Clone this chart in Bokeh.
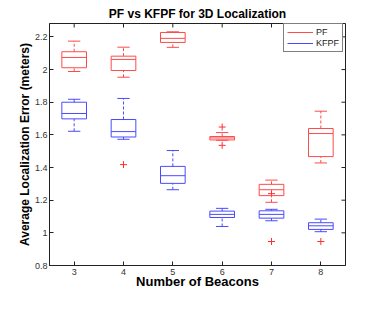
from bokeh.plotting import figure
from bokeh.models import FixedTicker, Range1d, Legend, LegendItem, ColumnDataSource
from bokeh.embed import file_html
from bokeh.resources import INLINE

# ---- data ----
beacons = [3, 4, 5, 6, 7, 8]

pf_lower_whisker = [1.988, 1.953, 2.136, 1.567, 1.187, 1.428]
pf_q1            = [2.011, 1.994, 2.166, 1.569, 1.228, 1.467]
pf_median        = [2.074, 2.062, 2.191, 1.581, 1.264, 1.608]
pf_q3            = [2.109, 2.082, 2.227, 1.590, 1.297, 1.639]
pf_upper_whisker = [2.174, 2.137, 2.231, 1.614, 1.323, 1.745]

kfpf_lower_whisker = [1.622, 1.573, 1.264, 1.039, 1.074, 1.007]
kfpf_q1            = [1.698, 1.587, 1.303, 1.094, 1.090, 1.021]
kfpf_median        = [1.731, 1.620, 1.350, 1.113, 1.113, 1.043]
kfpf_q3            = [1.800, 1.694, 1.407, 1.133, 1.135, 1.062]
kfpf_upper_whisker = [1.818, 1.823, 1.504, 1.150, 1.144, 1.084]

outlier_x = [4, 6, 6, 7, 7, 8]
outlier_y = [1.418, 1.648, 1.536, 1.240, 0.947, 0.947]

y_ticks = [0.8, 1.0, 1.2, 1.4, 1.6, 1.8, 2.0, 2.2]
y_tick_labels = ["0.8", "1", "1.2", "1.4", "1.6", "1.8", "2", "2.2"]

box_width = 0.5
cap_width = 0.25

X_MIN, X_MAX = 2.5, 8.5
Y_MIN, Y_MAX = 0.8, 2.282

PF_COLOR = "#ff4a4a"
KF_COLOR = "#4a4aff"
OUT_COLOR = "#ff3030"
AX_COLOR = "#222222"
FONT = "Liberation Sans"

W, H = 374, 302
BL, BR, BT, BB = 49, 29, 23, 37
FRAME_W = W - BL - BR
FRAME_H = H - BT - BB
TICK_PX = 4

p = figure(width=W, height=H, output_backend="svg", toolbar_location=None,
           x_range=Range1d(X_MIN, X_MAX), y_range=Range1d(Y_MIN, Y_MAX),
           min_border_left=BL, min_border_right=BR, min_border_top=BT,
           min_border_bottom=BB)
p.grid.visible = False
p.background_fill_color = "white"
p.border_fill_color = "white"
p.outline_line_color = AX_COLOR
p.outline_line_width = 1

p.title.text = "PF vs KFPF for 3D Localization"
p.title.align = "center"
p.title.text_font = FONT
p.title.text_font_size = "12px"
p.title.text_font_style = "bold"
p.title.text_color = "black"
p.title.standoff = 6
p.title.offset = 0

# outliers (MATLAB default red '+'), drawn first so boxes sit on top
p.scatter(x=outlier_x, y=outlier_y, marker="cross", size=7,
          line_color=OUT_COLOR, line_width=1)


def draw_boxes(lw, q1, med, q3, uw, color):
    src = ColumnDataSource(dict(
        x=beacons,
        left=[b - box_width / 2 for b in beacons],
        right=[b + box_width / 2 for b in beacons],
        cl=[b - cap_width / 2 for b in beacons],
        cr=[b + cap_width / 2 for b in beacons],
        lw=lw, q1=q1, med=med, q3=q3, uw=uw))
    p.segment(x0="x", y0="q3", x1="x", y1="uw", source=src, line_color=color,
              line_width=1, line_dash="3 2")
    p.segment(x0="x", y0="lw", x1="x", y1="q1", source=src, line_color=color,
              line_width=1, line_dash="3 2")
    p.segment(x0="cl", y0="uw", x1="cr", y1="uw", source=src, line_color=color, line_width=1)
    p.segment(x0="cl", y0="lw", x1="cr", y1="lw", source=src, line_color=color, line_width=1)
    p.quad(left="left", right="right", bottom="q1", top="q3", source=src,
           fill_alpha=0, line_color=color, line_width=1)
    p.segment(x0="left", y0="med", x1="right", y1="med", source=src,
              line_color=color, line_width=1)
    # single-point line: draws nothing visible, only provides the legend glyph
    return p.line(x=[beacons[0]], y=[med[0]], line_color=color, line_width=1)


r_pf = draw_boxes(pf_lower_whisker, pf_q1, pf_median, pf_q3, pf_upper_whisker, PF_COLOR)
r_kf = draw_boxes(kfpf_lower_whisker, kfpf_q1, kfpf_median, kfpf_q3, kfpf_upper_whisker, KF_COLOR)

# mirrored inward ticks on top and right edges (MATLAB "box on" style)
dy = TICK_PX * (Y_MAX - Y_MIN) / FRAME_H
dx = TICK_PX * (X_MAX - X_MIN) / FRAME_W
p.segment(x0=beacons, y0=[Y_MAX] * len(beacons), x1=beacons,
          y1=[Y_MAX - dy] * len(beacons), line_color=AX_COLOR, line_width=1)
p.segment(x0=[X_MAX] * len(y_ticks), y0=y_ticks, x1=[X_MAX - dx] * len(y_ticks),
          y1=y_ticks, line_color=AX_COLOR, line_width=1)

xa = p.xaxis[0]
ya = p.yaxis[0]
xa.ticker = FixedTicker(ticks=beacons)
ya.ticker = FixedTicker(ticks=y_ticks)
ya.major_label_overrides = {t: l for t, l in zip(y_ticks, y_tick_labels)}
for ax in (xa, ya):
    ax.axis_line_color = AX_COLOR
    ax.major_tick_line_color = AX_COLOR
    ax.major_tick_in = TICK_PX
    ax.major_tick_out = 0
    ax.minor_tick_line_color = None
    ax.major_label_text_font = FONT
    ax.major_label_text_font_size = "9px"
    ax.major_label_text_color = "#333333"
xa.major_label_standoff = 3
ya.major_label_standoff = 2

xa.axis_label = "Number of Beacons"
ya.axis_label = "Average Localization Error (meters)"
for ax, size in ((xa, "13px"), (ya, "12px")):
    ax.axis_label_text_font = FONT
    ax.axis_label_text_font_size = size
    ax.axis_label_text_font_style = "bold"
    ax.axis_label_text_color = "black"
xa.axis_label_standoff = -4
ya.axis_label_standoff = 0

legend = Legend(items=[LegendItem(label="PF", renderers=[r_pf]),
                       LegendItem(label="KFPF", renderers=[r_kf])],
                location=(234, 213))
legend.label_text_font = FONT
legend.label_text_font_size = "9px"
legend.label_text_color = "#222222"
legend.glyph_width = 26
legend.glyph_height = 10
legend.label_height = 10
legend.label_standoff = 3
legend.spacing = 1
legend.padding = 3
legend.margin = 0
legend.border_line_color = "black"
legend.border_line_width = 1
legend.background_fill_color = "white"
legend.background_fill_alpha = 1
p.add_layout(legend, "center")

open("out.html", "w").write(file_html(p, INLINE))
